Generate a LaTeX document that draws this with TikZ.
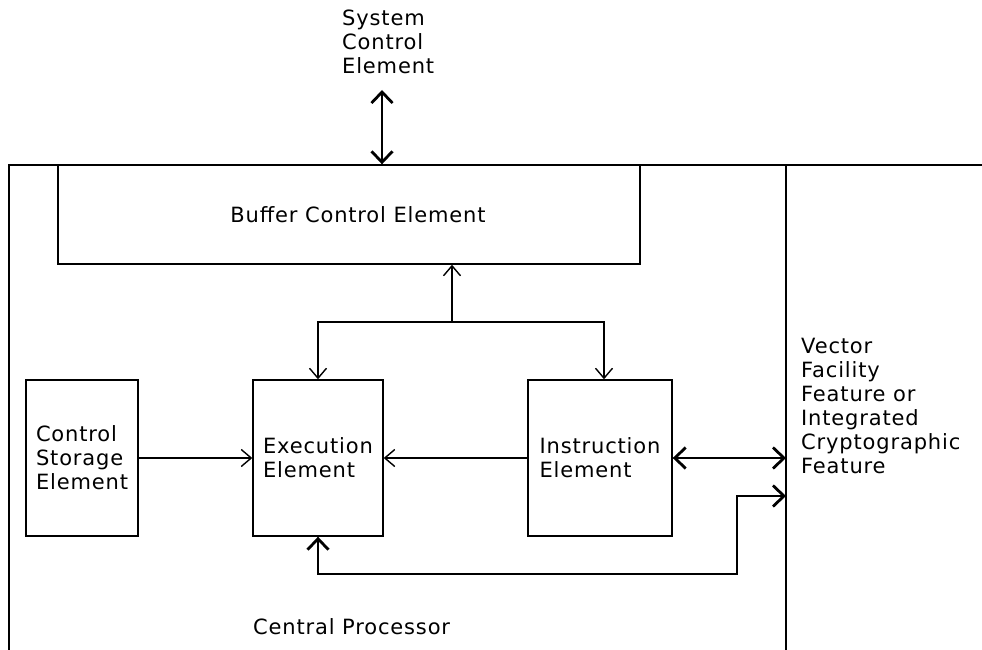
\documentclass[tikz,border=0pt]{standalone}
\usepackage{fontspec}
\setmainfont{DejaVu Sans}[LetterSpace=4.0]
\usetikzlibrary{positioning,arrows.meta,calc}

\begin{document}
\begin{tikzpicture}[x=1pt,y=-1pt,
    font=\fontsize{21}{24}\selectfont,
    elem/.style={draw, line width=1.4pt, align=left, inner sep=0pt},
    arr/.style={-{Straight Barb[length=10pt,width=17pt]}, line width=1.4pt},
    dbl/.style={{Straight Barb[length=11pt,width=21pt]}-{Straight Barb[length=11pt,width=21pt]}, line width=2.8pt},
    txt/.style={align=left, anchor=west, inner sep=0pt}]
    \useasboundingbox (0,0) rectangle (982,650);
    \draw[line width=1.4pt] (9,650) -- (9,165) -- (982,165);
    \draw[line width=1.4pt] (786,165) -- (786,650);
    \node[elem, minimum width=582pt, minimum height=99pt] (bce) at (349,214.5) {\hspace{18pt}Buffer Control Element};
    \foreach \x/\w/\name/\lbl in {82/112/cse/Control\\Storage\\Element, 318/130/exe/Execution\\Element, 600/144/ine/Instruction\\Element}
       {\node[elem, minimum width=\w pt, minimum height=156pt] (\name) at (\x,458) {\lbl};}
    \node[txt] (sce) at (342,42) {System\\Control\\Element};
    \node[txt] (vff) at (801,406) {Vector\\Facility\\Feature or\\Integrated\\Cryptographic\\Feature};
    \node[txt] (cp) at (253,627) {Central Processor};
    \coordinate (scein) at (382,90);
    \coordinate (hub) at (452,322);
    \coordinate (vffin) at (786,458);
    \coordinate (vffin2) at (786,496);
    \coordinate (bend) at (737,574);
    \draw[dbl] (scein) -- (scein |- bce.north);
    \draw[arr] (hub) -- (hub |- bce.south);
    \draw[arr] (hub) -| (exe.north);
    \draw[arr] (hub) -| ([xshift=4pt]ine.north);
    \draw[arr] (cse) -- (exe);
    \draw[arr] (ine) -- (exe);
    \draw[dbl] (ine.east) -- (vffin);
    \draw[dbl] (exe.south) -- (exe.south |- bend) -- (bend) |- (vffin2);
\end{tikzpicture}
\end{document}
